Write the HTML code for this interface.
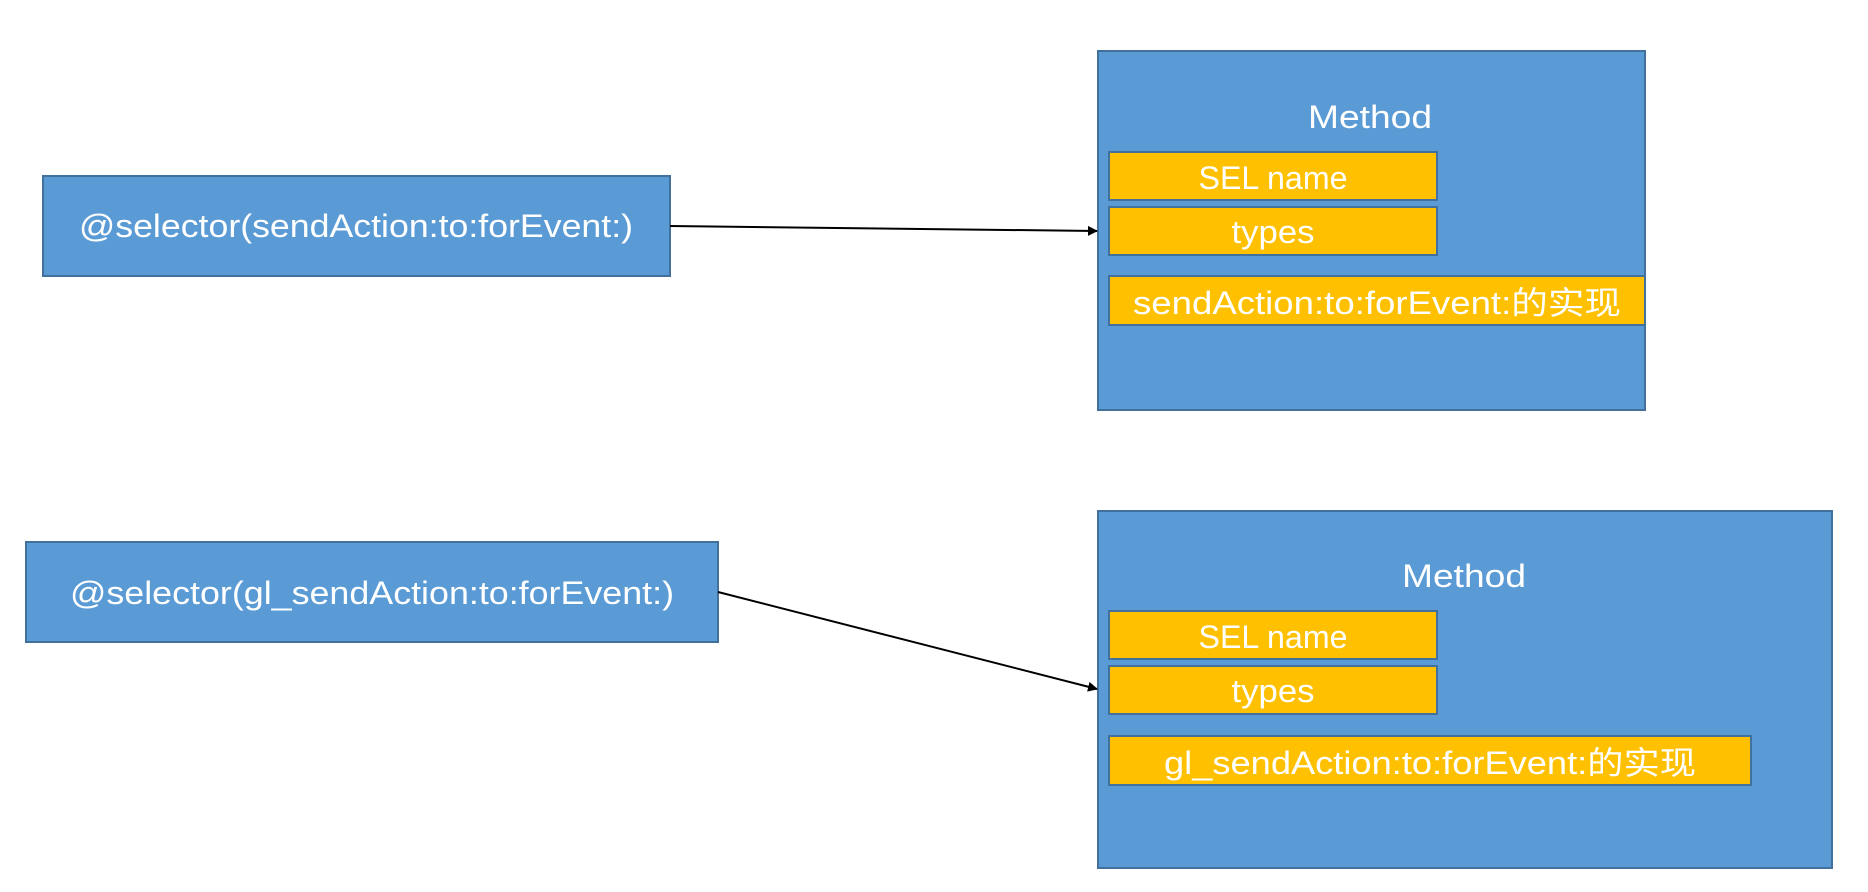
<!DOCTYPE html>
<html><head><meta charset="utf-8"><style>html,body{margin:0;padding:0;background:#fff}svg{display:block}</style></head>
<body>
<svg width="1868" height="892" xmlns="http://www.w3.org/2000/svg" font-family="'Liberation Sans','Noto Sans CJK SC',sans-serif" fill="#fff">
<defs><marker id="a" markerWidth="10" markerHeight="10" refX="9" refY="5" orient="auto" markerUnits="userSpaceOnUse"><path d="M0,0 L10,5 L0,10 z" fill="#000"/></marker></defs>
<g stroke="#41719c" stroke-width="2">
<rect x="43" y="176" width="627" height="100" fill="#5b9bd5"/>
<rect x="26" y="542" width="692" height="100" fill="#5b9bd5"/>
<rect x="1098" y="51" width="547" height="359" fill="#5b9bd5"/>
<rect x="1098" y="511" width="734" height="357" fill="#5b9bd5"/>
<rect x="1109" y="152" width="328" height="48" fill="#ffc000"/>
<rect x="1109" y="207" width="328" height="48" fill="#ffc000"/>
<rect x="1109" y="276" width="536" height="49" fill="#ffc000"/>
<rect x="1109" y="611" width="328" height="48" fill="#ffc000"/>
<rect x="1109" y="666" width="328" height="48" fill="#ffc000"/>
<rect x="1109" y="736" width="642" height="49" fill="#ffc000"/>
</g>
<g stroke="#000" stroke-width="2" fill="none">
<line x1="670" y1="226" x2="1097" y2="231" marker-end="url(#a)"/>
<line x1="718" y1="592" x2="1097" y2="689" marker-end="url(#a)"/>
</g>
<g font-size="32" text-anchor="middle">
<text x="356" y="237" textLength="554" lengthAdjust="spacingAndGlyphs">@selector(sendAction:to:forEvent:)</text>
<text x="372" y="604" textLength="604" lengthAdjust="spacingAndGlyphs">@selector(gl_sendAction:to:forEvent:)</text>
<text x="1370" y="128" textLength="124" lengthAdjust="spacingAndGlyphs">Method</text>
<text x="1464" y="587" textLength="124" lengthAdjust="spacingAndGlyphs">Method</text>
<text x="1273" y="189" textLength="149" lengthAdjust="spacingAndGlyphs">SEL name</text>
<text x="1273" y="243" textLength="83" lengthAdjust="spacingAndGlyphs">types</text>
<text x="1377" y="314" textLength="488" lengthAdjust="spacingAndGlyphs">sendAction:to:forEvent:的实现</text>
<text x="1273" y="648" textLength="149" lengthAdjust="spacingAndGlyphs">SEL name</text>
<text x="1273" y="702" textLength="83" lengthAdjust="spacingAndGlyphs">types</text>
<text x="1430" y="774" textLength="532" lengthAdjust="spacingAndGlyphs">gl_sendAction:to:forEvent:的实现</text>
</g>
</svg>
</body></html>
